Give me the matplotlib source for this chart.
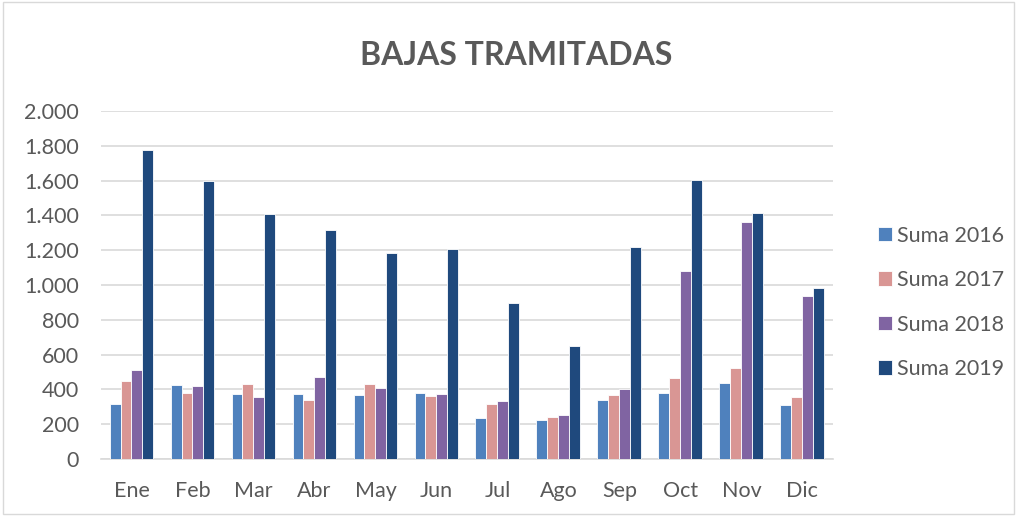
import matplotlib.pyplot as plt
import numpy as np
from matplotlib.ticker import FuncFormatter

meses = ['Ene', 'Feb', 'Mar', 'Abr', 'May', 'Jun', 'Jul', 'Ago', 'Sep', 'Oct', 'Nov', 'Dic']
suma_2016 = [316, 427, 375, 375, 369, 379, 235, 224, 341, 379, 436, 310]
suma_2017 = [446, 377, 431, 341, 432, 363, 316, 241, 367, 463, 524, 354]
suma_2018 = [509, 419, 356, 471, 408, 373, 335, 254, 402, 1080, 1363, 936]
suma_2019 = [1776, 1596, 1409, 1317, 1183, 1208, 897, 649, 1221, 1602, 1412, 980]

series = [('Suma 2016', suma_2016, '#4F81BD'),
          ('Suma 2017', suma_2017, '#D99694'),
          ('Suma 2018', suma_2018, '#8064A2'),
          ('Suma 2019', suma_2019, '#1F497D')]

plt.rcParams['font.family'] = ['Lato', 'DejaVu Sans']
texto = '#595959'

fig = plt.figure(figsize=(10.17, 5.16), dpi=100)
ax = fig.add_axes([0.0993, 0.1105, 0.7197, 0.6745])

x = np.arange(len(meses))
slot = 0.18
for i, (nombre, valores, color) in enumerate(series):
    ax.bar(x + (i - 1.5) * slot, valores, width=slot, color=color,
           edgecolor='white', linewidth=0.6, label=nombre, zorder=3)

ax.set_xlim(-0.5, len(meses) - 0.5)
ax.set_ylim(0, 2000)
ax.set_yticks(range(0, 2001, 200))
ax.yaxis.set_major_formatter(FuncFormatter(lambda v, p: f'{int(v):,}'.replace(',', '.')))
ax.set_xticks(x)
ax.set_xticklabels(meses)
ax.grid(axis='y', color='#D9D9D9', linewidth=1.2, zorder=0)
for s in ['top', 'right', 'left']:
    ax.spines[s].set_visible(False)
ax.spines['bottom'].set_color('#D9D9D9')
ax.spines['bottom'].set_linewidth(1.2)
ax.tick_params(axis='both', length=0, labelsize=15.5, colors=texto)
ax.tick_params(axis='y', pad=16)
ax.tick_params(axis='x', pad=16)

fig.text(0.508, 0.892, 'BAJAS TRAMITADAS', ha='center', va='center',
         fontsize=23, fontweight='bold', color=texto)

ax.legend(loc='center left', bbox_to_anchor=(1.035, 0.45), frameon=False,
          fontsize=15.5, labelcolor=texto, handlelength=0.65, handleheight=0.65,
          handletextpad=0.25, labelspacing=1.14)

borde = plt.Rectangle((0.003, 0.003), 0.994, 0.994, transform=fig.transFigure,
                      fill=False, edgecolor='#D9D9D9', linewidth=1)
fig.patches.append(borde)

fig.savefig('out.png', dpi=100)
